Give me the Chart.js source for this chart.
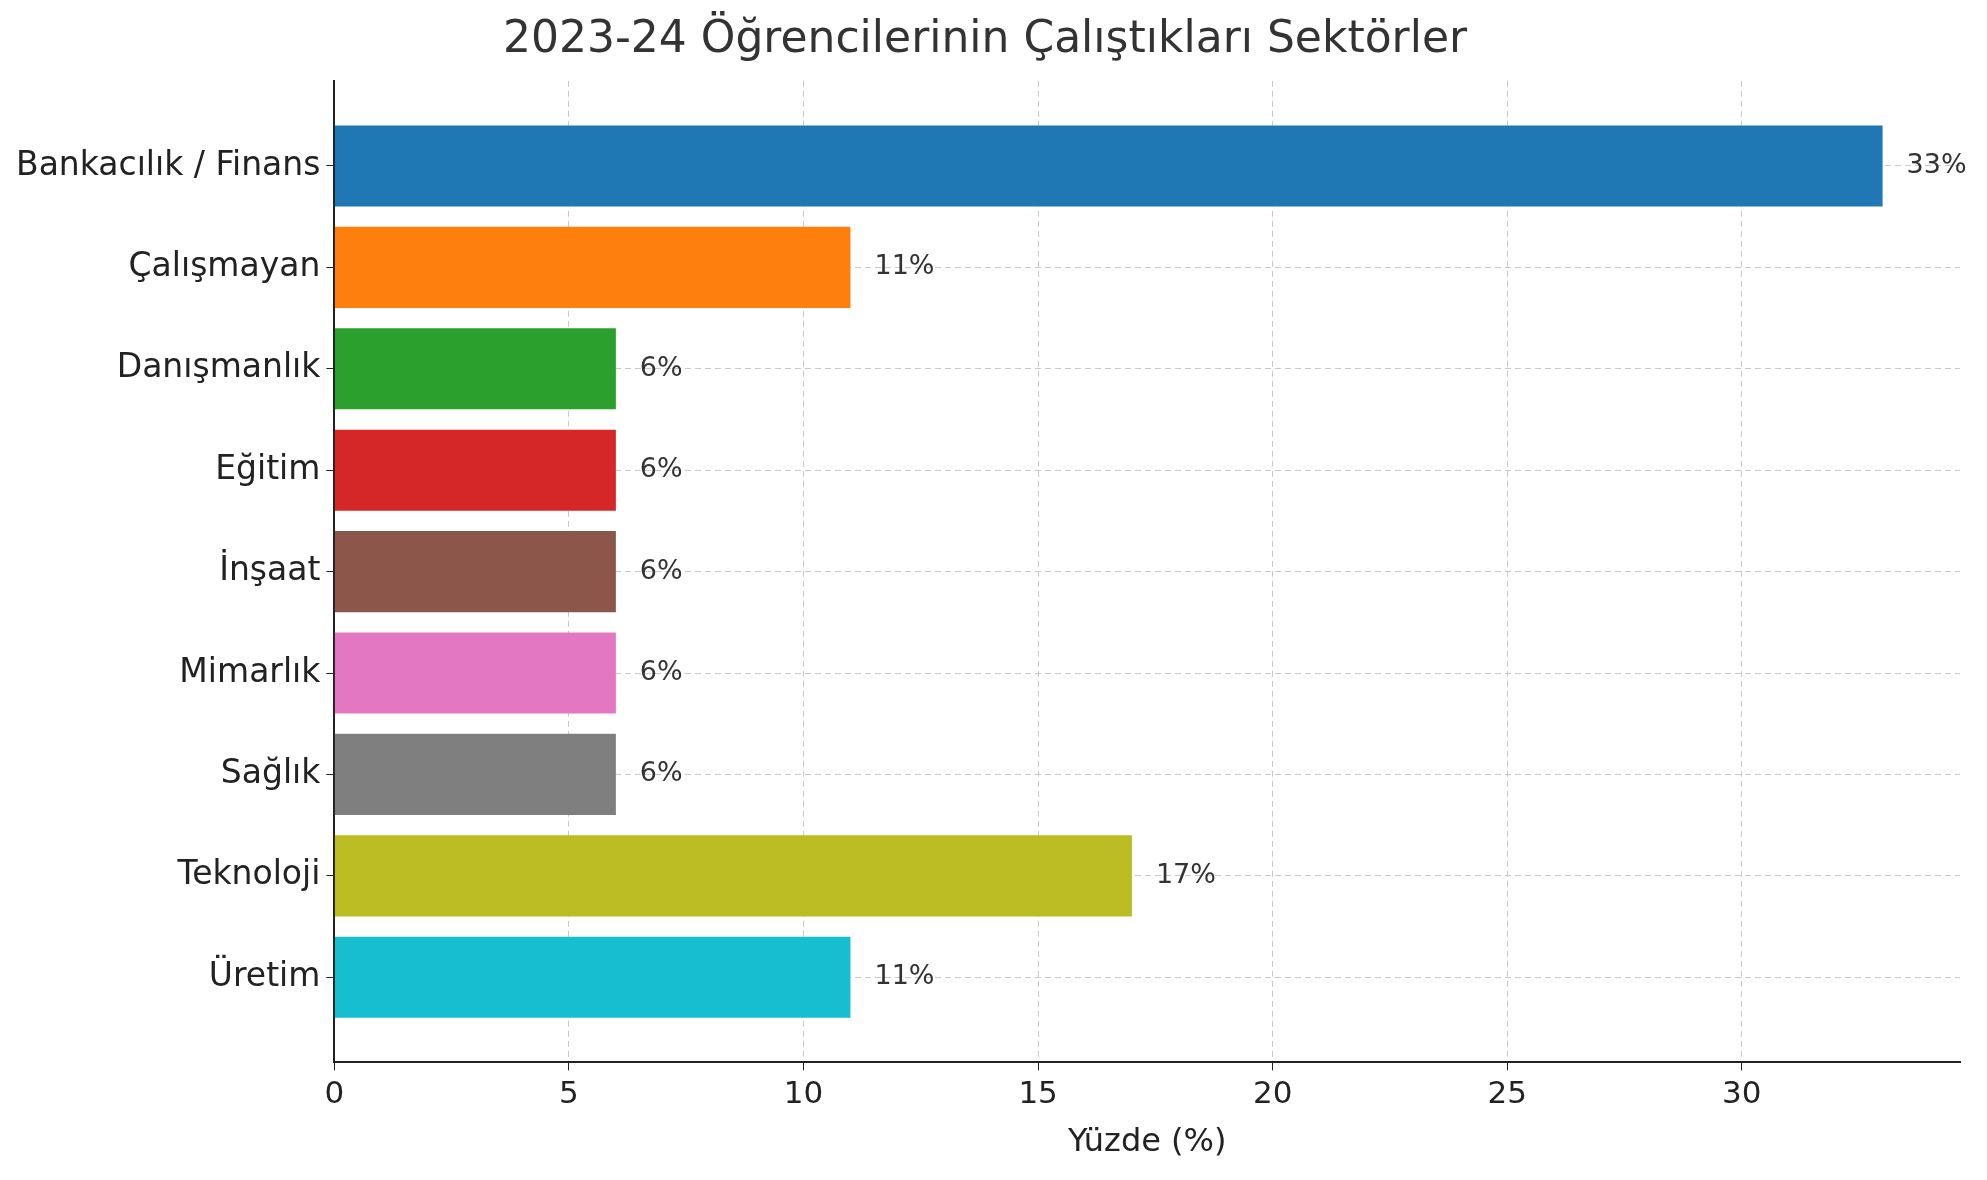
<!DOCTYPE html>
<html><head><meta charset="utf-8">
<script src="https://cdn.jsdelivr.net/npm/chart.js@4"></script>
<style>html,body{margin:0;padding:0;background:#fff}#w{width:1987px;height:1180px}</style>
</head><body><div id="w"><canvas id="c"></canvas></div>
<script>
const categories=["Bankacılık / Finans","Çalışmayan","Danışmanlık","Eğitim","İnşaat","Mimarlık","Sağlık","Teknoloji","Üretim"];
const values=[33,11,6,6,6,6,6,17,11];
const colors=["#1f77b4","#ff7f0e","#2ca02c","#d62728","#8c564b","#e377c2","#7f7f7f","#bcbd22","#17becf"];
const xTicks=[0,5,10,15,20,25,30];
const F="DejaVu Sans";
const labelPlugin={id:'lbl',afterDatasetsDraw(ch){const ctx=ch.ctx;const m=ch.getDatasetMeta(0);ctx.save();ctx.font="27px '"+F+"'";ctx.fillStyle="#333";ctx.textBaseline="middle";
m.data.forEach((b,i)=>{ctx.fillText(values[i]+"%",b.x+24,b.y);});ctx.restore();}};
new Chart(document.getElementById('c'),{type:'bar',
data:{datasets:[{data:values.map((v,i)=>({x:v,y:i})),backgroundColor:colors,barPercentage:1,categoryPercentage:0.8}]},
options:{indexAxis:'y',responsive:true,maintainAspectRatio:false,animation:false,
layout:{padding:{left:10,right:27,top:0,bottom:14}},
plugins:{legend:{display:false},tooltip:{enabled:false},
title:{display:true,text:"2023-24 Öğrencilerinin Çalıştıkları Sektörler",font:{family:F,size:44,weight:'normal'},color:'#333',padding:{top:14,bottom:14}}},
scales:{
x:{type:'linear',min:0,max:34.65,afterBuildTicks(s){s.ticks=xTicks.map(v=>({value:v}));},
ticks:{font:{family:F,size:31},color:'#222',padding:6},
grid:{color:'#c8c8c8',tickLength:8,tickColor:'#222'},border:{color:'#222',width:2,dash:[6,4]},
title:{display:true,text:'Yüzde (%)',font:{family:F,size:32},color:'#222',padding:{top:4}}},
y:{type:'linear',reverse:true,offset:false,min:-0.84,max:8.84,afterBuildTicks(s){s.ticks=categories.map((c,i)=>({value:i}));},
ticks:{font:{family:F,size:33},color:'#222',padding:6,callback:v=>categories[v]},
grid:{offset:false,color:'#c8c8c8',tickLength:8,tickColor:'#222'},border:{color:'#222',width:2,dash:[6,4]}}
}},plugins:[labelPlugin]});
</script></body></html>
